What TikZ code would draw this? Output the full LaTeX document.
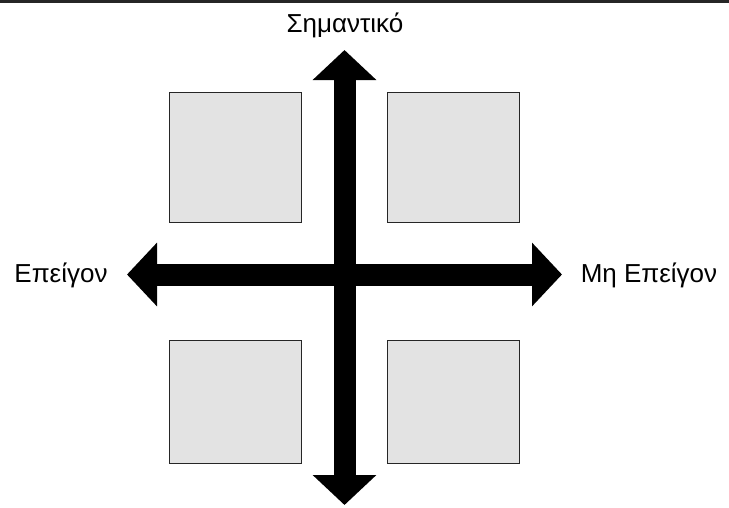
\documentclass[tikz,border=0pt]{standalone}
\usepackage{fontspec}
\setmainfont{Liberation Sans}
\usetikzlibrary{arrows.meta}
\begin{document}
\begin{tikzpicture}[x=1pt,y=-1pt,
  quad/.style={draw=black!85, line width=0.9pt, fill=black!11, minimum width=132pt, minimum height=130pt, inner sep=0pt, anchor=north west},
  lbl/.style={font=\fontsize{26}{30}\selectfont, inner sep=0pt},
  bigarrow/.style={line width=22pt, {Triangle[width=62pt,length=30pt]}-{Triangle[width=62pt,length=30pt]}}]
\useasboundingbox (0,0) rectangle (729,507);
\fill[white] (0,0) rectangle (729,507);
\draw[line width=3pt, black!85] (0,1.5) -- (729,1.5);
% quadrant boxes
\node[quad] (tl) at (169,92) {};
\node[quad] (tr) at (387,92) {};
\node[quad, minimum height=123pt] (bl) at (169,340) {};
\node[quad, minimum height=123pt] (br) at (387,340) {};
% axes
\coordinate (top) at (344.5,50);
\coordinate (bot) at (344.5,505);
\coordinate (lft) at (127,274.5);
\coordinate (rgt) at (562,274.5);
\draw[bigarrow] (bot) -- (top);
\draw[bigarrow] (lft) -- (rgt);
% labels
\node[lbl] (imp) at (345,25) {Σημαντικό};
\node[lbl] (urg) at (61,275) {Επείγον};
\node[lbl] (nurg) at (649,275) {Μη Επείγον};
\end{tikzpicture}
\end{document}
